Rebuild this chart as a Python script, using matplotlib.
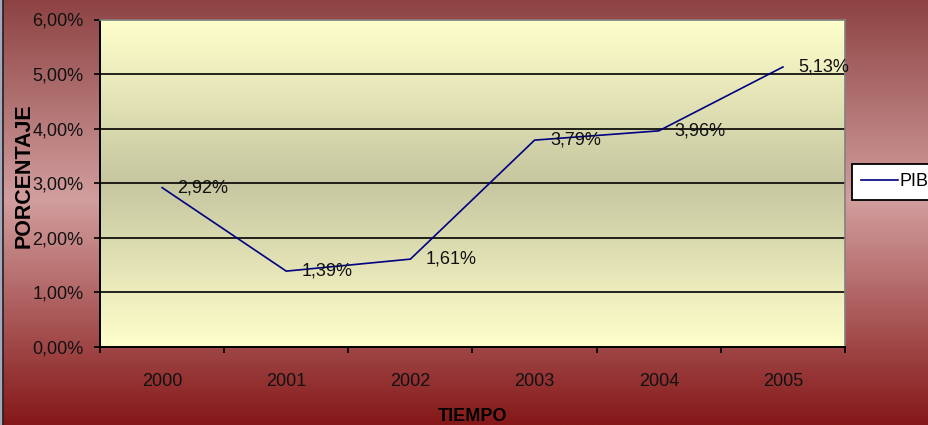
import numpy as np
import matplotlib
matplotlib.use("Agg")
import matplotlib.pyplot as plt
from matplotlib.colors import LinearSegmentedColormap
from matplotlib.patches import Rectangle
from matplotlib.lines import Line2D
from matplotlib.ticker import FixedLocator, NullFormatter, FuncFormatter

years = ["2000", "2001", "2002", "2003", "2004", "2005"]
pib = [2.92, 1.39, 1.61, 3.79, 3.96, 5.13]
labels = ["2,92%", "1,39%", "1,61%", "3,79%", "3,96%", "5,13%"]
y_ticks = [0, 1, 2, 3, 4, 5, 6]

plt.rcParams["font.family"] = ["Liberation Sans", "DejaVu Sans"]

fig = plt.figure(figsize=(9.29, 4.25), dpi=100)

# figure background: vertical red/pink gradient
bg = fig.add_axes([0, 0, 1, 1], zorder=-10)
bg_cmap = LinearSegmentedColormap.from_list(
    "bg", [(0.0, "#851818"), (0.53, "#D29E9E"), (1.0, "#8E4343")])
bg.imshow(np.linspace(0, 1, 256).reshape(-1, 1), cmap=bg_cmap, aspect="auto",
          origin="lower", extent=[0, 1, 0, 1])
bg.set_axis_off()
fig.patches.append(Rectangle((0, 0), 3 / 929, 1, transform=fig.transFigure,
                             facecolor="#A8A8BC", edgecolor="none", zorder=5))
fig.lines.append(Line2D([3.5 / 929, 3.5 / 929], [0, 1], transform=fig.transFigure,
                        color="#202020", lw=1.2, zorder=6))

ax = fig.add_axes([100 / 929, 78 / 425, 745 / 929, 327.5 / 425])
x = np.arange(len(years))

# plot area gradient: light yellow -> olive -> light yellow
pa_cmap = LinearSegmentedColormap.from_list(
    "pa", [(0.0, "#FFFFCC"), (0.5, "#C6C6A0"), (1.0, "#FFFFCC")])
ax.imshow(np.linspace(0, 1, 256).reshape(-1, 1), cmap=pa_cmap, aspect="auto",
          origin="lower", extent=[-0.5, 5.5, 0, 6], zorder=0)

ax.set_xlim(-0.5, 5.5)
ax.set_ylim(0, 6)

for v in y_ticks[1:-1]:
    ax.axhline(v, color="black", lw=1.2, zorder=1)

ax.plot(x, pib, color="#000080", lw=1.2, zorder=3, label="PIB")
for xi, v, t in zip(x, pib, labels):
    ax.annotate(t, (xi, v), xytext=(11, 0), textcoords="offset points",
                ha="left", va="center", fontsize=13, color="#111111", zorder=4)

ax.yaxis.set_major_locator(FixedLocator(y_ticks))
ax.yaxis.set_major_formatter(FuncFormatter(lambda v, p: f"{v:.2f}%".replace(".", ",")))
ax.xaxis.set_major_locator(FixedLocator(np.arange(-0.5, 6.0, 1.0)))
ax.xaxis.set_major_formatter(NullFormatter())
ax.xaxis.set_minor_locator(FixedLocator(x))
ax.set_xticklabels(years, minor=True)

ax.tick_params(axis="y", which="major", direction="out", length=4, width=1.2,
               pad=8, labelsize=13, labelcolor="#111111")
ax.tick_params(axis="x", which="major", direction="out", length=4, width=1.2)
ax.tick_params(axis="x", which="minor", length=0, pad=19, labelsize=13,
               labelcolor="#111111")

for s in ["left", "bottom"]:
    ax.spines[s].set_color("black")
    ax.spines[s].set_linewidth(1.4)
for s in ["top", "right"]:
    ax.spines[s].set_color("#808080")
    ax.spines[s].set_linewidth(1.2)

ax.set_xlabel("TIEMPO", fontsize=13, fontweight="bold")
ax.set_ylabel("PORCENTAJE", fontsize=15.5, fontweight="bold")
ax.xaxis.set_label_coords(0.5, -0.185)
ax.yaxis.set_label_coords(-0.088, 0.522)

leg = ax.legend(loc="center left", bbox_to_anchor=(852 / 929, 1 - 182 / 425),
                bbox_transform=fig.transFigure, frameon=True, fancybox=False,
                fontsize=13, handlelength=2.05, handletextpad=0.1,
                borderpad=0.5, borderaxespad=0)
leg.get_frame().set_edgecolor("black")
leg.get_frame().set_linewidth(1.3)
leg.get_frame().set_facecolor("white")
leg.get_frame().set_alpha(1)

fig.savefig("out.png", dpi=100)
